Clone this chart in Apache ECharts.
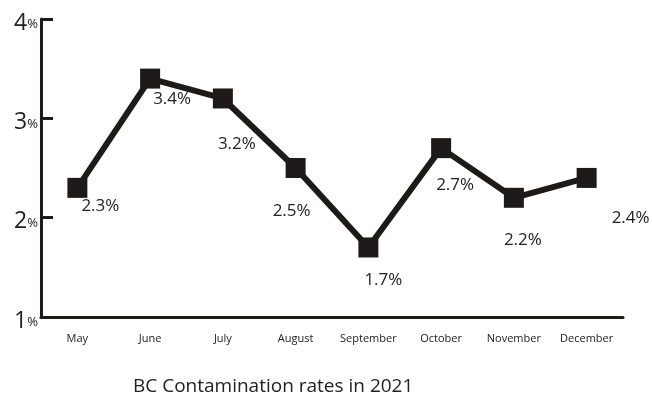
<!DOCTYPE html>
<html>
<head>
<meta charset="utf-8">
<script src="https://cdn.jsdelivr.net/npm/echarts@6/dist/echarts.min.js"></script>
<style>
html,body{margin:0;padding:0;background:#fff;}
#chart{width:652px;height:399px;}
</style>
</head>
<body>
<div id="chart"></div>
<script>
const months = ['May','June','July','August','September','October','November','December'];
const rates = [2.3, 3.4, 3.2, 2.5, 1.7, 2.7, 2.2, 2.4];
const yTicks = [1, 2, 3, 4];
const chartTitle = 'BC Contamination rates in 2021';

// label placement relative to each marker (style only)
const labelOffsets = [[23,18],[22,21],[14,46],[-4,43],[15,33],[14,37],[9,42],[44,40]];

const FONT = '"Open Sans", sans-serif';
const INK = '#1e1a1a';

const chart = echarts.init(document.getElementById('chart'), null, {renderer:'canvas'});
chart.setOption({
  animation: false,
  backgroundColor: '#fff',
  title: {
    text: chartTitle,
    left: 128, top: 372,
    textStyle: {fontFamily: FONT, fontSize: 19, fontWeight: 'normal', color: '#222'}
  },
  grid: {left: 41, right: 29, top: 19, bottom: 82, containLabel: false},
  xAxis: {
    type: 'category',
    data: months,
    boundaryGap: true,
    axisLine: {lineStyle: {color: INK, width: 3}},
    axisTick: {inside: true, length: 5, interval: 0, lineStyle: {color: INK, width: 2}},
    axisLabel: {interval: 0, fontFamily: FONT, fontSize: 11, color: '#222', margin: 16}
  },
  yAxis: {
    type: 'value',
    min: yTicks[0], max: yTicks[yTicks.length-1], interval: 1,
    splitLine: {show: false},
    axisLine: {show: true, lineStyle: {color: INK, width: 3}},
    axisTick: {show: true, inside: true, length: 12, lineStyle: {color: INK, width: 3}},
    axisLabel: {
      margin: 3,
      formatter: v => '{n|' + v + '}{p|%}',
      rich: {
        n: {fontFamily: FONT, fontSize: 23, color: '#222', padding: [8,0,0,0]},
        p: {fontFamily: FONT, fontSize: 13, color: '#222', padding: [11,0,0,0]}
      }
    }
  },
  series: [{
    type: 'line',
    data: rates.map((v, i) => ({
      value: v,
      label: {offset: labelOffsets[i]}
    })),
    symbol: 'rect',
    symbolSize: 20,
    lineStyle: {color: INK, width: 6},
    itemStyle: {color: INK},
    label: {
      show: true,
      position: 'inside',
      formatter: p => p.value + '%',
      fontFamily: FONT, fontSize: 17, color: '#222'
    },
    z: 3
  }]
});
</script>
</body>
</html>
